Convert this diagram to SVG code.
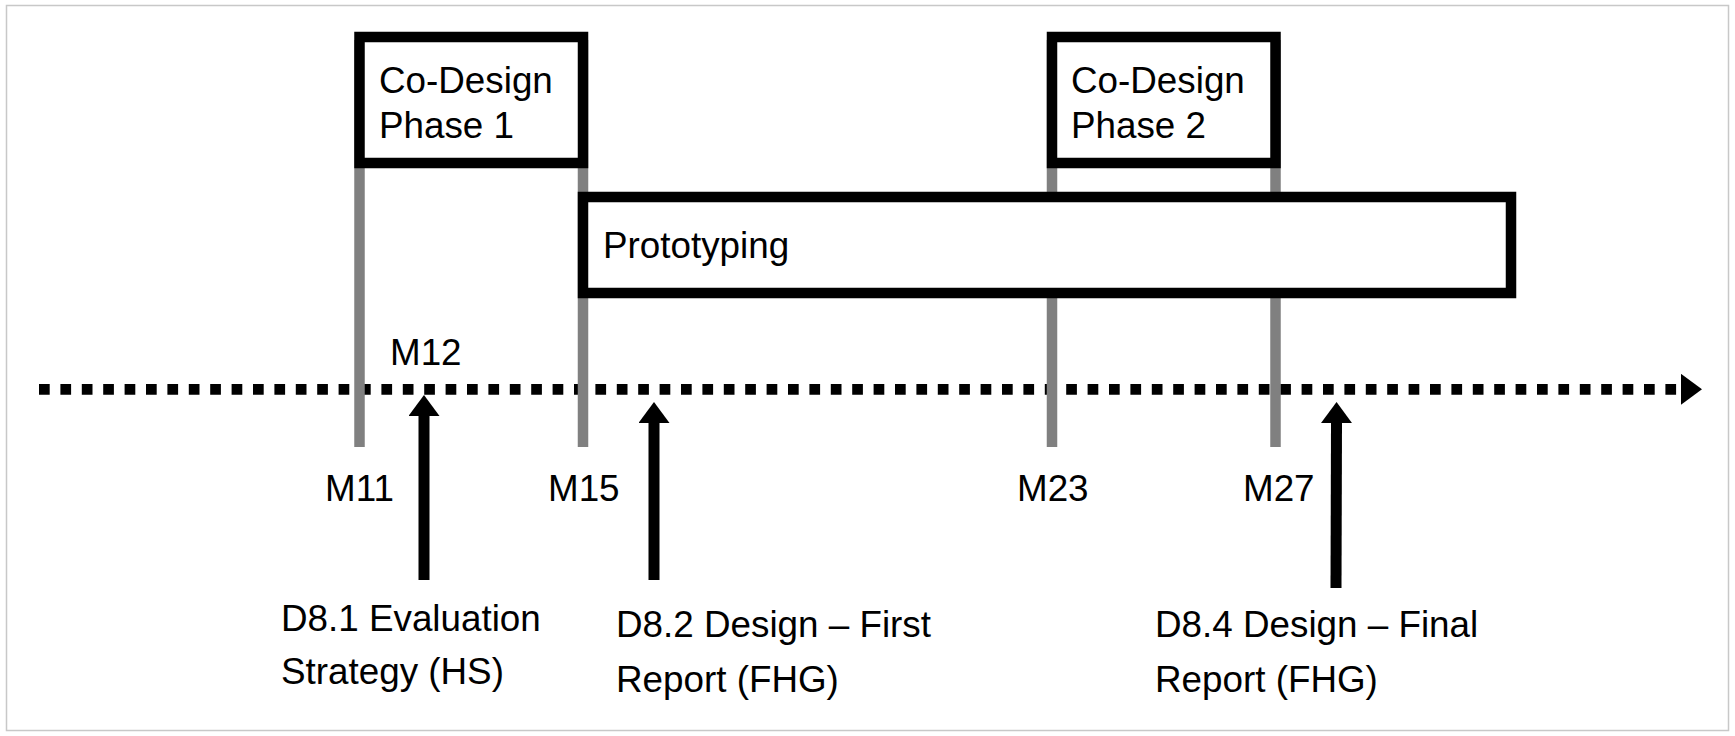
<svg xmlns="http://www.w3.org/2000/svg" width="1735" height="736" viewBox="0 0 1735 736">
  <style>
    text { font-family: "Liberation Sans", Arial, sans-serif; font-size: 36.8px; fill: #000; }
    .box { fill: #fff; stroke: #000; stroke-width: 10.5; }
    .tick { stroke: #808080; stroke-width: 10.5; }
    .arrow { stroke: #000; stroke-width: 11; fill: none; marker-end: url(#head); }
    .axis { stroke: #000; stroke-width: 10.7; stroke-dasharray: 10.7 10.7; fill: none; marker-end: url(#head); }
  </style>
  <defs>
    <marker id="head" markerUnits="userSpaceOnUse" viewBox="0 -15.5 21 31" markerWidth="21" markerHeight="31" refX="0" refY="0" orient="auto">
      <path d="M0,-15.5 L21,0 L0,15.5 Z" fill="#000"/>
    </marker>
  </defs>
  <rect x="6.5" y="5.5" width="1722" height="725" fill="#fff" stroke="#c8c8c8" stroke-width="1.5"/>

  <g id="connectors">
    <line class="axis" x1="39" y1="389.3" x2="1681" y2="389.3"/>
    <line class="tick" x1="359.5" y1="40" x2="359.5" y2="447"/>
    <line class="tick" x1="583" y1="40" x2="583" y2="447"/>
    <line class="tick" x1="1052" y1="40" x2="1052" y2="447"/>
    <line class="tick" x1="1275.5" y1="40" x2="1275.5" y2="447"/>
    <line class="arrow" x1="424" y1="580" x2="424" y2="416"/>
    <line class="arrow" x1="654" y1="580" x2="654" y2="423"/>
    <line class="arrow" x1="1336" y1="588" x2="1336.5" y2="423"/>
  </g>

  <g id="codesign1">
    <rect class="box" x="359.5" y="37" width="223.5" height="126"/>
    <text x="379" y="93">Co-Design</text>
    <text x="379" y="138">Phase 1</text>
  </g>

  <g id="codesign2">
    <rect class="box" x="1052" y="37" width="223.5" height="126"/>
    <text x="1071" y="93">Co-Design</text>
    <text x="1071" y="138">Phase 2</text>
  </g>

  <g id="prototyping">
    <rect class="box" x="583" y="197" width="928" height="96"/>
    <text x="603" y="258">Prototyping</text>
  </g>

  <g id="m12"><text x="390" y="365">M12</text></g>
  <g id="m11"><text x="325" y="501">M11</text></g>
  <g id="m15"><text x="548" y="501">M15</text></g>
  <g id="m23"><text x="1017" y="501">M23</text></g>
  <g id="m27"><text x="1243" y="501">M27</text></g>

  <g id="d81">
    <text x="281" y="631">D8.1 Evaluation</text>
    <text x="281" y="684">Strategy (HS)</text>
  </g>
  <g id="d82">
    <text x="616" y="637">D8.2 Design – First</text>
    <text x="616" y="692">Report (FHG)</text>
  </g>
  <g id="d84">
    <text x="1155" y="637">D8.4 Design – Final</text>
    <text x="1155" y="692">Report (FHG)</text>
  </g>
</svg>
